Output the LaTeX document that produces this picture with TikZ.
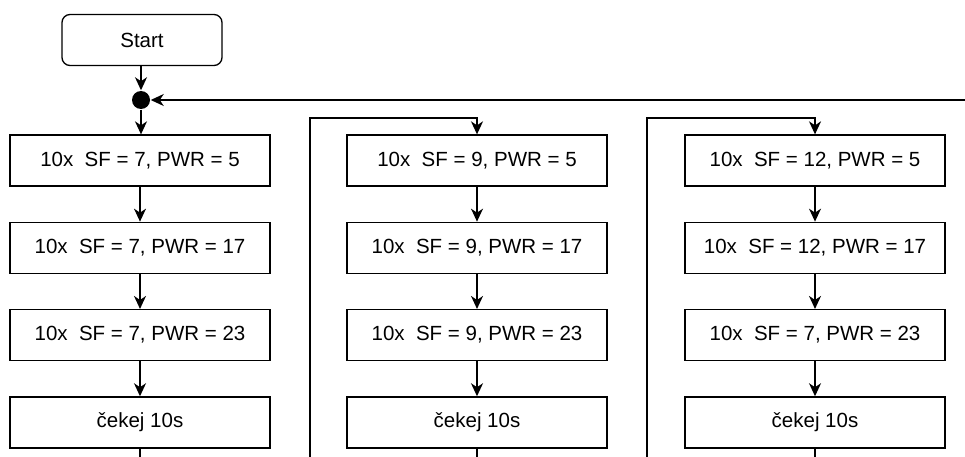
\documentclass[tikz,border=0pt]{standalone}
\usepackage{fontspec}
\setmainfont{Liberation Sans}
\usetikzlibrary{arrows.meta,positioning}

\begin{document}
\begin{tikzpicture}[x=1pt, y=-1pt, ->, >={Stealth[length=13pt,width=12pt,inset=4pt]}, line width=1.5pt, node distance=35pt]
	\tikzstyle{box}=[draw=black,fill=white,line width=1.3pt,minimum width=260pt,minimum height=51pt,inner sep=0pt,font=\fontsize{20.5}{24}\selectfont]
	\tikzstyle{startbox}=[box,minimum width=160pt,rounded corners=8pt]
	\useasboundingbox (0,0) rectangle (965,457);

	\node[startbox] (start) at (142,40) {Start};
	\node[circle,fill=black,inner sep=0pt,minimum size=18pt] (dot) at (141,100) {};

	% column 1
	\node[box] (a1) at (140,160.5) {10x~ SF = 7, PWR = 5};
	\node[box, below=of a1] (a2) {10x~ SF = 7, PWR = 17};
	\node[box, below=of a2] (a3) {10x~ SF = 7, PWR = 23};
	\node[box, below=of a3] (a4) {čekej 10s};

	% column 2
	\node[box] (b1) at (477,160.5) {10x~ SF = 9, PWR = 5};
	\node[box, below=of b1] (b2) {10x~ SF = 9, PWR = 17};
	\node[box, below=of b2] (b3) {10x~ SF = 9, PWR = 23};
	\node[box, below=of b3] (b4) {čekej 10s};

	% column 3
	\node[box] (c1) at (815,160.5) {10x~ SF = 12, PWR = 5};
	\node[box, below=of c1] (c2) {10x~ SF = 12, PWR = 17};
	\node[box, below=of c2] (c3) {10x~ SF = 7, PWR = 23};
	\node[box, below=of c3] (c4) {čekej 10s};

	\coordinate (back) at (968,100);
	\coordinate (a4end) at (140,462);
	\coordinate (b4end) at (477,462);
	\coordinate (c4end) at (815,462);
	\coordinate (bin) at (310,462);
	\coordinate (cin) at (647,462);

	\path
	(start.south -| dot) edge (dot)
	(back) edge (dot)
	(dot) edge (a1.north -| dot)
	(a1) edge (a2)
	(a2) edge (a3)
	(a3) edge (a4)
	(b1) edge (b2)
	(b2) edge (b3)
	(b3) edge (b4)
	(c1) edge (c2)
	(c2) edge (c3)
	(c3) edge (c4);

	\draw[-] (a4) -- (a4end);
	\draw[-] (b4) -- (b4end);
	\draw[-] (c4) -- (c4end);
	\draw (bin) |- (477,118) -- (b1);
	\draw (cin) |- (815,118) -- (c1);
\end{tikzpicture}
\end{document}
